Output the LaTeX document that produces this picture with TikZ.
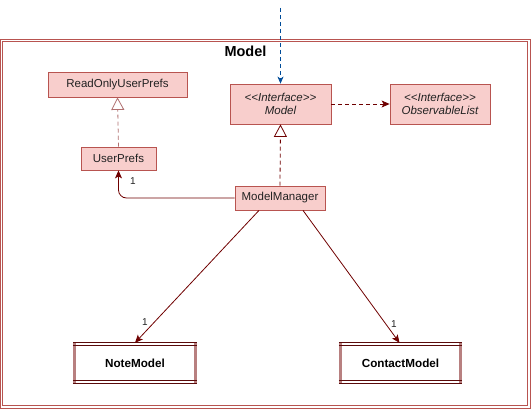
\documentclass[tikz,border=0pt]{standalone}
\usepackage{fontspec}
\setmainfont{Liberation Sans}
\usetikzlibrary{arrows.meta}
\definecolor{boxfill}{HTML}{F8CECC}
\definecolor{boxline}{HTML}{B85450}
\definecolor{dkred}{HTML}{6F0000}
\definecolor{ltred}{HTML}{B07070}
\definecolor{bluearr}{HTML}{004C99}
\definecolor{barcol}{HTML}{B88080}
\definecolor{dblline}{HTML}{5A0A0A}
\definecolor{txt}{HTML}{222222}
\begin{document}
\begin{tikzpicture}[x=1pt,y=-1pt, font=\fontsize{11.5}{13.5}\selectfont,
  cls/.style={draw=boxline, fill=boxfill, line width=0.8pt, inner sep=0pt, align=center, text=txt},
  comp/.style={fill=white, inner sep=0pt, text=black, font=\fontsize{11.7}{13.5}\selectfont\bfseries},
  dsh/.style={dash pattern=on 4pt off 3pt},
  conn/.style={draw=dkred, line width=0.8pt},
  filltip/.style={-{Stealth[length=8pt,width=7pt,inset=2pt]}},
  opentip/.style={-{Triangle[open,length=12.5pt,width=13pt,fill=white]}},
  mult/.style={font=\fontsize{10}{12}\selectfont, text=txt, inner sep=0pt}]
\useasboundingbox (0,0) rectangle (531,409);

% outer frame (double line)
\draw[boxline, line width=0.9pt] (0.8,39.2) rectangle (530.2,408.2);
\draw[boxline, line width=0.9pt] (2.8,41.4) rectangle (527.2,405.8);
\node[font=\fontsize{14.5}{16}\selectfont\bfseries, text=black] (title) at (245.5,51) {Model};

% classes
\node[cls, minimum width=139pt, minimum height=25pt] (rup) at (117.5,84.5) {ReadOnlyUserPrefs};
\node[cls, minimum width=101pt, minimum height=40pt] (model) at (280.5,104) {\itshape <{}<Interface>{}>\\\itshape Model};
\node[cls, minimum width=100pt, minimum height=40pt] (obs) at (440,104) {\itshape <{}<Interface>{}>\\\itshape ObservableList};
\node[cls, minimum width=75pt, minimum height=23pt] (up) at (118.5,158.5) {UserPrefs};
\node[cls, minimum width=90pt, minimum height=24pt] (mm) at (280,198) {ModelManager};

% component boxes
\node[comp, minimum width=124pt, minimum height=40pt] (nm) at (135,363) {NoteModel};
\node[comp, minimum width=123pt, minimum height=40pt] (cm) at (400.5,363) {ContactModel};
\foreach \n in {nm,cm}{
  \fill[barcol] (\n.north west) rectangle ([xshift=3.5pt]\n.south west);
  \fill[barcol] (\n.north east) rectangle ([xshift=-3.5pt]\n.south east);
  \draw[dblline, line width=0.8pt] (\n.north west) -- (\n.north east);
  \draw[dblline, line width=0.8pt] ([yshift=-2.4pt]\n.north west) -- ([yshift=-2.4pt]\n.north east);
  \draw[dblline, line width=0.8pt] (\n.south west) -- (\n.south east);
  \draw[dblline, line width=0.8pt] ([yshift=2.4pt]\n.south west) -- ([yshift=2.4pt]\n.south east);
}

% incoming blue dashed arrow
\coordinate (top) at (280.5,8);
\draw[bluearr, line width=0.8pt, dsh, -{Stealth[length=7pt,width=6pt,inset=2pt]}] (top) -- (model.north);

% realizations
\draw[draw=ltred, line width=0.8pt, dsh, opentip] (up.north) -- (rup.south);
\draw[conn, dsh, opentip] (mm.north) -- (model.south);

% dependency Model -> ObservableList
\draw[conn, dsh, filltip] (model.east) -- (obs.west);

% associations
\draw[conn, filltip, rounded corners=8pt] (mm.west) -| (up.south);
\node[mult] (l1) at (133,181) {1};
\draw[conn, filltip] ([xshift=-21pt]mm.south) -- (nm.north);
\node[mult] (l2) at (145,322) {1};
\draw[conn, filltip] ([xshift=23pt]mm.south) -- ([xshift=-1pt]cm.north);
\node[mult] (l3) at (394,324) {1};
\end{tikzpicture}
\end{document}
